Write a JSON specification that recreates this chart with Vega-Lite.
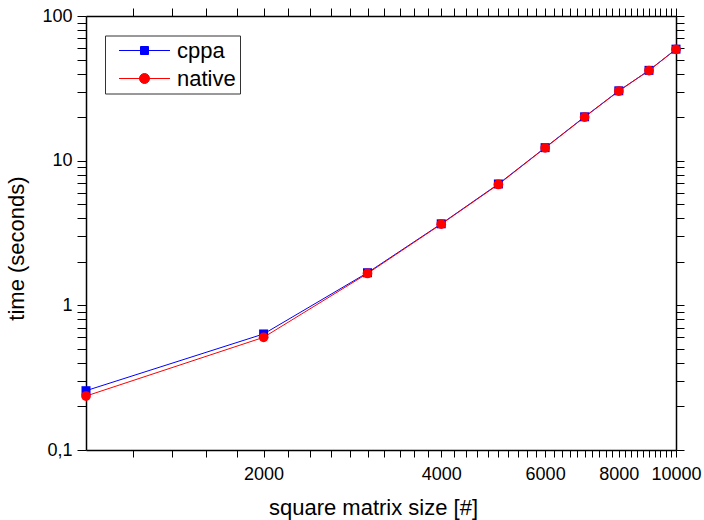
{
  "$schema": "https://vega.github.io/schema/vega-lite/v6.json",
  "width": 590,
  "height": 434,
  "autosize": {"type": "none"},
  "padding": {"left": 86, "top": 16, "right": 28, "bottom": 70},
  "background": "white",
  "config": {
    "font": "Liberation Sans",
    "view": {"stroke": null},
    "axis": {
      "grid": false,
      "domainColor": "black",
      "tickColor": "black",
      "labelColor": "black",
      "titleColor": "black",
      "labelFont": "Liberation Sans",
      "titleFont": "Liberation Sans",
      "labelFontSize": 18,
      "titleFontSize": 22,
      "titleFontWeight": "normal",
      "domainWidth": 1.5,
      "tickWidth": 1,
      "labelOverlap": false,
      "labelFlush": false
    },
    "legend": {"labelFont": "Liberation Sans"}
  },
  "data": {
    "values": [
      {"size": 1000, "series": "cppa", "time": 0.257},
      {"size": 2000, "series": "cppa", "time": 0.634},
      {"size": 3000, "series": "cppa", "time": 1.68},
      {"size": 4000, "series": "cppa", "time": 3.66},
      {"size": 5000, "series": "cppa", "time": 6.9},
      {"size": 6000, "series": "cppa", "time": 12.3},
      {"size": 7000, "series": "cppa", "time": 20.1},
      {"size": 8000, "series": "cppa", "time": 30.4},
      {"size": 9000, "series": "cppa", "time": 42.1},
      {"size": 10000, "series": "cppa", "time": 59.0},
      {"size": 1000, "series": "native", "time": 0.236},
      {"size": 2000, "series": "native", "time": 0.601},
      {"size": 3000, "series": "native", "time": 1.66},
      {"size": 4000, "series": "native", "time": 3.64},
      {"size": 5000, "series": "native", "time": 6.85},
      {"size": 6000, "series": "native", "time": 12.25},
      {"size": 7000, "series": "native", "time": 20.0},
      {"size": 8000, "series": "native", "time": 30.3},
      {"size": 9000, "series": "native", "time": 42.0},
      {"size": 10000, "series": "native", "time": 58.8}
    ]
  },
  "layer": [
    {
      "mark": {"type": "line", "strokeWidth": 1},
      "encoding": {
        "x": {
          "field": "size",
          "type": "quantitative",
          "scale": {"type": "log", "domain": [1000, 10000], "nice": false},
          "axis": {
            "orient": "bottom",
            "title": "square matrix size [#]",
            "values": [1200,1400,1600,1800,2000,2200,2400,2600,2800,3000,3200,3400,3600,3800,4000,4200,4400,4600,4800,5000,5200,5400,5600,5800,6000,6200,6400,6600,6800,7000,7200,7400,7600,7800,8000,8200,8400,8600,8800,9000,9200,9400,9600,9800,10000],
            "labelExpr": "datum.value % 2000 === 0 ? format(datum.value, 'd') : ''",
            "tickSize": 7,
            "labelPadding": 8,
            "titleX": 287,
            "titleY": 64,
            "titleBaseline": "alphabetic",
            "titleAlign": "center",
            "encode": {"ticks": {"update": {"y2": {"signal": "datum.value % 2000 === 0 ? 7 : 4"}}}}
          }
        },
        "y": {
          "field": "time",
          "type": "quantitative",
          "scale": {"type": "log", "domain": [0.1, 100], "nice": false},
          "axis": {
            "orient": "left",
            "title": "time (seconds)",
            "values": [0.1,0.2,0.3,0.4,0.5,0.6,0.7,0.8,0.9,1,2,3,4,5,6,7,8,9,10,20,30,40,50,60,70,80,90,100],
            "labelExpr": "datum.value === 0.1 ? '0,1' : (indexof([1,10,100], datum.value) >= 0 ? format(datum.value, 'd') : '')",
            "tickSize": 9,
            "labelPadding": 5,
            "titleX": -63,
            "titleY": 232,
            "titleBaseline": "alphabetic",
            "titleAlign": "center",
            "encode": {"ticks": {"update": {"x2": {"signal": "indexof([0.1,1,10,100], datum.value) >= 0 ? -9 : -5"}}}}
          }
        },
        "color": {
          "field": "series",
          "type": "nominal",
          "scale": {"domain": ["cppa", "native"], "range": ["#0000ff", "#ff0000"]},
          "legend": {
            "orient": "none",
            "legendX": 19,
            "legendY": 19.5,
            "title": null,
            "padding": 4,
            "strokeColor": "#333333",
            "fillColor": "white",
            "symbolSize": 400,
            "symbolOffset": 24.5,
            "labelOffset": 21.5,
            "labelFontSize": 22,
            "labelColor": "black",
            "rowPadding": 6,
            "symbolStrokeWidth": 1,
            "encoding": {
              "symbols": {
                "shape": {"value": {"expr": "datum.value === 'cppa' ? 'M-2.55,0H2.55M-0.4,-0.4H0.4V0.4H-0.4Z' : 'M-2.55,0H2.55M0.5,0A0.5,0.5 0 1,1 -0.5,0A0.5,0.5 0 1,1 0.5,0Z'"}},
                "fill": {"value": {"expr": "datum.value === 'cppa' ? '#0000ff' : '#ff0000'"}},
                "fillOpacity": {"value": 1},
                "strokeWidth": {"value": 1}
              }
            }
          }
        }
      }
    },
    {
      "transform": [{"filter": "datum.series === 'cppa'"}],
      "mark": {"type": "point", "filled": true, "opacity": 1, "shape": "square", "size": 81, "color": "#0000ff"},
      "encoding": {
        "x": {
          "field": "size",
          "type": "quantitative",
          "scale": {"type": "log", "domain": [1000, 10000], "nice": false},
          "axis": {
            "orient": "top",
            "title": null,
            "labels": false,
            "values": [1200,1400,1600,1800,2000,2200,2400,2600,2800,3000,3200,3400,3600,3800,4000,4200,4400,4600,4800,5000,5200,5400,5600,5800,6000,6200,6400,6600,6800,7000,7200,7400,7600,7800,8000,8200,8400,8600,8800,9000,9200,9400,9600,9800,10000],
            "tickSize": 8,
            "encode": {"ticks": {"update": {"y2": {"signal": "datum.value % 2000 === 0 ? 8 : 4"}}}}
          }
        },
        "y": {
          "field": "time",
          "type": "quantitative",
          "scale": {"type": "log", "domain": [0.1, 100], "nice": false},
          "axis": {
            "orient": "right",
            "title": null,
            "labels": false,
            "values": [0.1,0.2,0.3,0.4,0.5,0.6,0.7,0.8,0.9,1,2,3,4,5,6,7,8,9,10,20,30,40,50,60,70,80,90,100],
            "tickSize": 8,
            "encode": {"ticks": {"update": {"x2": {"signal": "indexof([0.1,1,10,100], datum.value) >= 0 ? -8 : -4"}}}}
          }
        }
      }
    },
    {
      "transform": [{"filter": "datum.series === 'native'"}],
      "mark": {"type": "point", "filled": true, "opacity": 1, "shape": "circle", "size": 95, "color": "#ff0000"},
      "encoding": {
        "x": {"field": "size", "type": "quantitative", "scale": {"type": "log", "domain": [1000, 10000], "nice": false}, "axis": null},
        "y": {"field": "time", "type": "quantitative", "scale": {"type": "log", "domain": [0.1, 100], "nice": false}, "axis": null}
      }
    }
  ],
  "resolve": {"axis": {"x": "independent", "y": "independent"}}
}
